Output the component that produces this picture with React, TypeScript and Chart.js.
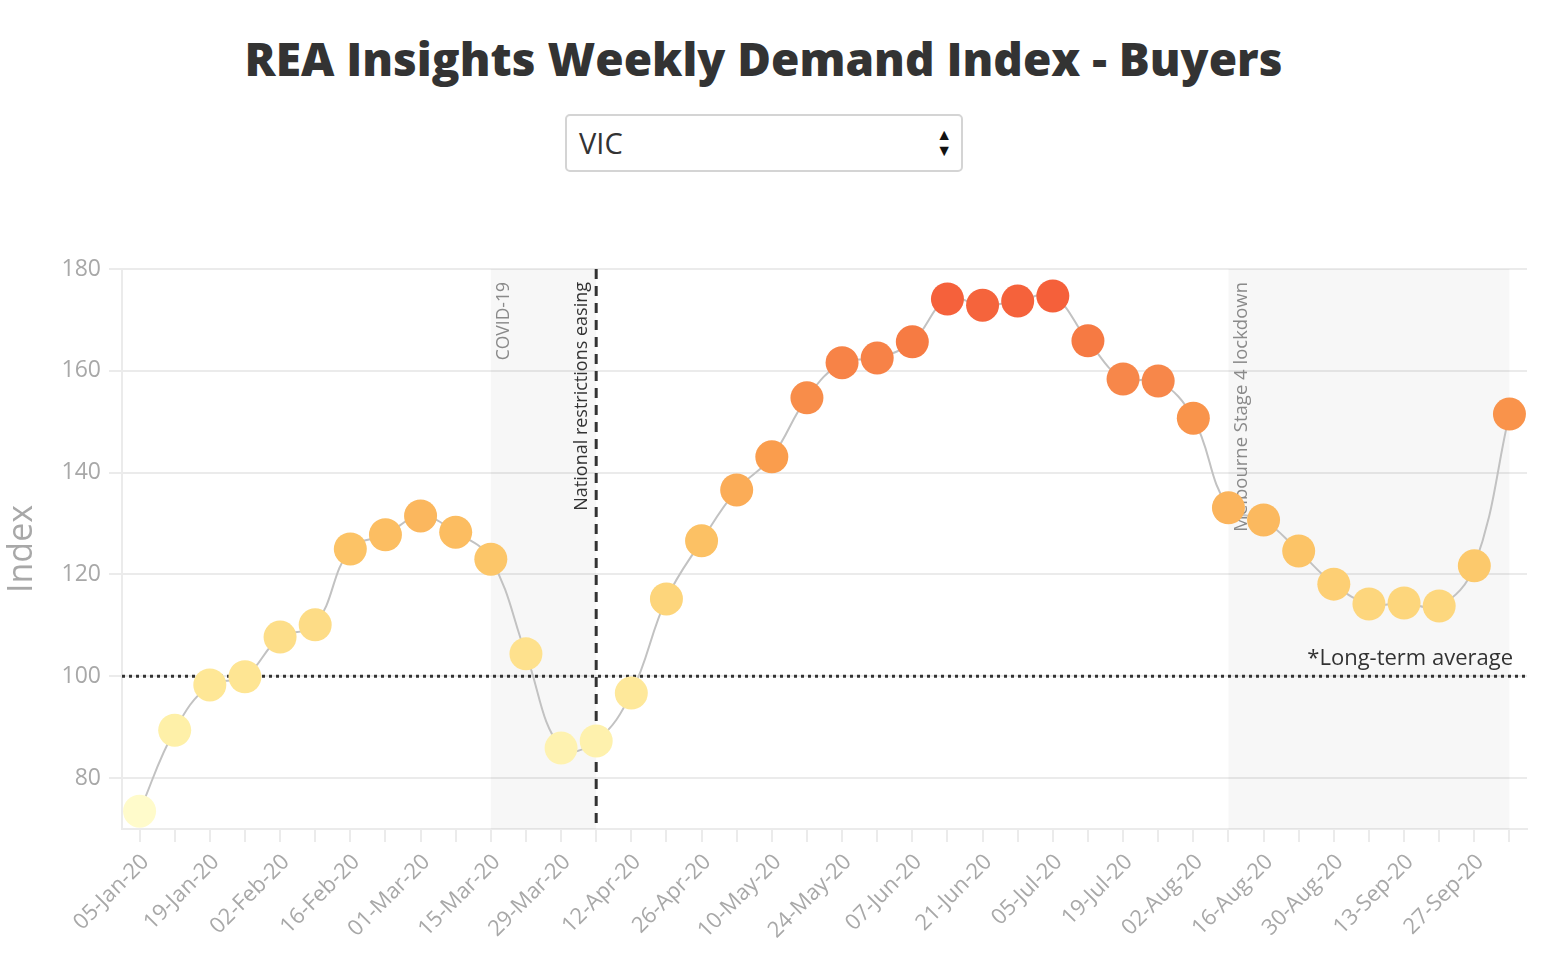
import React, { useEffect, useRef } from "react";
import { Chart, registerables } from "chart.js";

Chart.register(...registerables);

const FONT = "'Open Sans', 'Noto Sans', sans-serif";
Chart.defaults.font.family = FONT;

// ---- Data ----
const weeks = [
  "05-Jan-20", "12-Jan-20", "19-Jan-20", "26-Jan-20", "02-Feb-20", "09-Feb-20",
  "16-Feb-20", "23-Feb-20", "01-Mar-20", "08-Mar-20", "15-Mar-20", "22-Mar-20",
  "29-Mar-20", "05-Apr-20", "12-Apr-20", "19-Apr-20", "26-Apr-20", "03-May-20",
  "10-May-20", "17-May-20", "24-May-20", "31-May-20", "07-Jun-20", "14-Jun-20",
  "21-Jun-20", "28-Jun-20", "05-Jul-20", "12-Jul-20", "19-Jul-20", "26-Jul-20",
  "02-Aug-20", "09-Aug-20", "16-Aug-20", "23-Aug-20", "30-Aug-20", "06-Sep-20",
  "13-Sep-20", "20-Sep-20", "27-Sep-20", "04-Oct-20",
];

const demandIndex = [
  73.5, 89.4, 98.3, 99.9, 107.7, 110.1,
  125.0, 127.8, 131.5, 128.3, 123.0, 104.4,
  85.9, 87.3, 96.7, 115.2, 126.6, 136.6,
  143.1, 154.7, 161.6, 162.5, 165.7, 174.1,
  172.9, 173.7, 174.7, 165.9, 158.4, 158.0,
  150.7, 133.1, 130.7, 124.6, 118.1, 114.2,
  114.4, 113.8, 121.7, 151.5,
];

const yTickValues = [80, 100, 120, 140, 160, 180];

const shadedPeriods = [
  { from: "15-Mar-20", to: "05-Apr-20", label: "COVID-19" },
  { from: "09-Aug-20", to: "04-Oct-20", label: "Melbourne Stage 4 lockdown" },
];

const eventLine = { at: "05-Apr-20", label: "National restrictions easing" };

const longTermAverage = 100;
const averageLabel = "*Long-term average";

const colorStopValues = [73.5, 89, 100, 110, 115, 122, 127, 133, 137, 143, 151, 158, 162, 166, 173, 175];
const colorStopHex = [
  "#fffbcb", "#fef0a9", "#fee593", "#fddc86", "#fdd57b", "#fcc86b", "#fcc063", "#fbb45c",
  "#fbab56", "#fa9d4d", "#f9944b", "#f7874a", "#f78347", "#f67a43", "#f5643c", "#f55f3a",
];

function hexToRgb(h: string) {
  const n = parseInt(h.slice(1), 16);
  return [(n >> 16) & 255, (n >> 8) & 255, n & 255];
}

function colorFor(v: number): string {
  if (v <= colorStopValues[0]) return colorStopHex[0];
  for (let i = 1; i < colorStopValues.length; i++) {
    if (v <= colorStopValues[i]) {
      const t = (v - colorStopValues[i - 1]) / (colorStopValues[i] - colorStopValues[i - 1]);
      const a = hexToRgb(colorStopHex[i - 1]);
      const b = hexToRgb(colorStopHex[i]);
      const c = a.map((x, k) => Math.round(x + (b[k] - x) * t));
      return `rgb(${c[0]},${c[1]},${c[2]})`;
    }
  }
  return colorStopHex[colorStopHex.length - 1];
}

const annotationPlugin = {
  id: "annotations",
  beforeDatasetsDraw(chart: any) {
    const { ctx, chartArea, scales } = chart;
    const { top, bottom, left, right } = chartArea;
    const x = scales.x;
    const y = scales.y;
    ctx.save();

    // shaded periods
    ctx.fillStyle = "rgba(0,0,0,0.03)";
    for (const p of shadedPeriods) {
      const x1 = x.getPixelForValue(weeks.indexOf(p.from));
      const x2 = x.getPixelForValue(weeks.indexOf(p.to));
      ctx.fillRect(x1, top, x2 - x1, bottom - top);
    }

    // long-term average dotted line
    const yAvg = y.getPixelForValue(longTermAverage);
    ctx.strokeStyle = "#333";
    ctx.lineWidth = 3;
    ctx.setLineDash([3, 4]);
    ctx.beginPath();
    ctx.moveTo(left, yAvg);
    ctx.lineTo(right, yAvg);
    ctx.stroke();

    // event dashed line
    const xe = x.getPixelForValue(weeks.indexOf(eventLine.at));
    ctx.setLineDash([10, 7]);
    ctx.beginPath();
    ctx.moveTo(xe, top);
    ctx.lineTo(xe, bottom);
    ctx.stroke();
    ctx.setLineDash([]);

    // shaded period labels
    shadedPeriods.forEach((p, i) => {
      const x1 = x.getPixelForValue(weeks.indexOf(p.from));
      ctx.save();
      ctx.translate(x1 + 4, top + 13);
      ctx.rotate(-Math.PI / 2);
      ctx.textAlign = "right";
      ctx.textBaseline = "top";
      ctx.fillStyle = "#8a8a8a";
      ctx.font = `${i === 0 ? 17.5 : 18.5}px ${FONT}`;
      ctx.fillText(p.label, 0, 0);
      ctx.restore();
    });

    // event label
    ctx.save();
    ctx.translate(xe - 5, top + 13);
    ctx.rotate(-Math.PI / 2);
    ctx.textAlign = "right";
    ctx.textBaseline = "bottom";
    ctx.fillStyle = "#333";
    ctx.font = `18px ${FONT}`;
    ctx.fillText(eventLine.label, 0, 0);
    ctx.restore();

    // average label
    ctx.textAlign = "right";
    ctx.textBaseline = "alphabetic";
    ctx.fillStyle = "#333";
    ctx.font = `22px ${FONT}`;
    ctx.fillText(averageLabel, right - 14, yAvg - 11);

    ctx.restore();
  },
};

function DemandChart() {
  const ref = useRef<HTMLCanvasElement | null>(null);
  useEffect(() => {
    if (!ref.current) return;
    const chart = new Chart(ref.current, {
      type: "line",
      data: {
        labels: weeks,
        datasets: [
          {
            data: demandIndex,
            borderColor: "#c2c2c2",
            borderWidth: 2,
            tension: 0.4,
            fill: false,
            pointRadius: 16.5,
            pointHoverRadius: 16.5,
            pointBorderWidth: 0,
            pointBackgroundColor: demandIndex.map(colorFor),
            clip: false as any,
          },
        ],
      },
      options: {
        animation: false,
        responsive: false,
        layout: { padding: { top: 69, right: 27, left: 0, bottom: 0 } },
        plugins: {
          legend: { display: false },
          tooltip: { enabled: false },
        },
        scales: {
          x: {
            type: "category",
            offset: true,
            afterFit: (s: any) => {
              s.height = 151;
            },
            grid: {
              offset: false,
              drawOnChartArea: false,
              drawTicks: true,
              tickLength: 13,
              color: "#ebebeb",
              lineWidth: 2,
            },
            border: { display: true, color: "#ebebeb", width: 2 },
            ticks: {
              autoSkip: false,
              maxRotation: 45,
              minRotation: 45,
              padding: 7,
              labelOffset: 6,
              color: "#a8a8a8",
              font: { size: 22 },
              callback: (_v: any, i: number) => (i % 2 === 0 ? weeks[i] : ""),
            },
          },
          y: {
            min: 70,
            max: 180,
            afterFit: (s: any) => {
              s.width = 122;
            },
            afterBuildTicks: (axis: any) => {
              axis.ticks = yTickValues.map((v) => ({ value: v }));
            },
            grid: {
              color: "#ebebeb",
              lineWidth: 2,
              tickLength: 13,
            },
            border: { display: true, color: "#ebebeb", width: 2 },
            ticks: {
              padding: 8,
              color: "#a8a8a8",
              font: { size: 23 },
            },
            title: {
              display: true,
              text: "Index",
              color: "#a8a8a8",
              font: { size: 34 },
              padding: { top: 2, bottom: 0 },
            },
          },
        },
      },
      plugins: [annotationPlugin],
    });
    return () => chart.destroy();
  }, []);
  return (
    <canvas
      ref={ref}
      width={1554}
      height={780}
      style={{ position: "absolute", left: 0, top: 200, width: 1554, height: 780 }}
    />
  );
}

export default function App() {
  return (
    <div style={{ position: "absolute", left: 0, top: 0, width: 1554, height: 980, background: "#fff", fontFamily: FONT }}>
      <h1
        style={{
          position: "absolute",
          left: 0,
          top: 32,
          width: 1527,
          margin: 0,
          textAlign: "center",
          fontSize: 46,
          lineHeight: "52px",
          fontWeight: 800,
          color: "#333",
          fontFamily: FONT,
        }}
      >
        REA Insights Weekly Demand Index - Buyers
      </h1>
      <div
        style={{
          position: "absolute",
          left: 565,
          top: 114,
          width: 398,
          height: 58,
          boxSizing: "border-box",
          border: "2px solid #d4d4d4",
          borderRadius: 5,
          fontFamily: FONT,
          fontSize: 29,
          color: "#333",
          lineHeight: "54px",
          paddingLeft: 12,
        }}
      >
        VIC
        <div
          style={{
            position: "absolute",
            right: 9,
            top: 10,
            fontSize: 16,
            lineHeight: "16px",
            color: "#111",
            textAlign: "center",
          }}
        >
          <div>▲</div>
          <div>▼</div>
        </div>
      </div>
      <DemandChart />
    </div>
  );
}
